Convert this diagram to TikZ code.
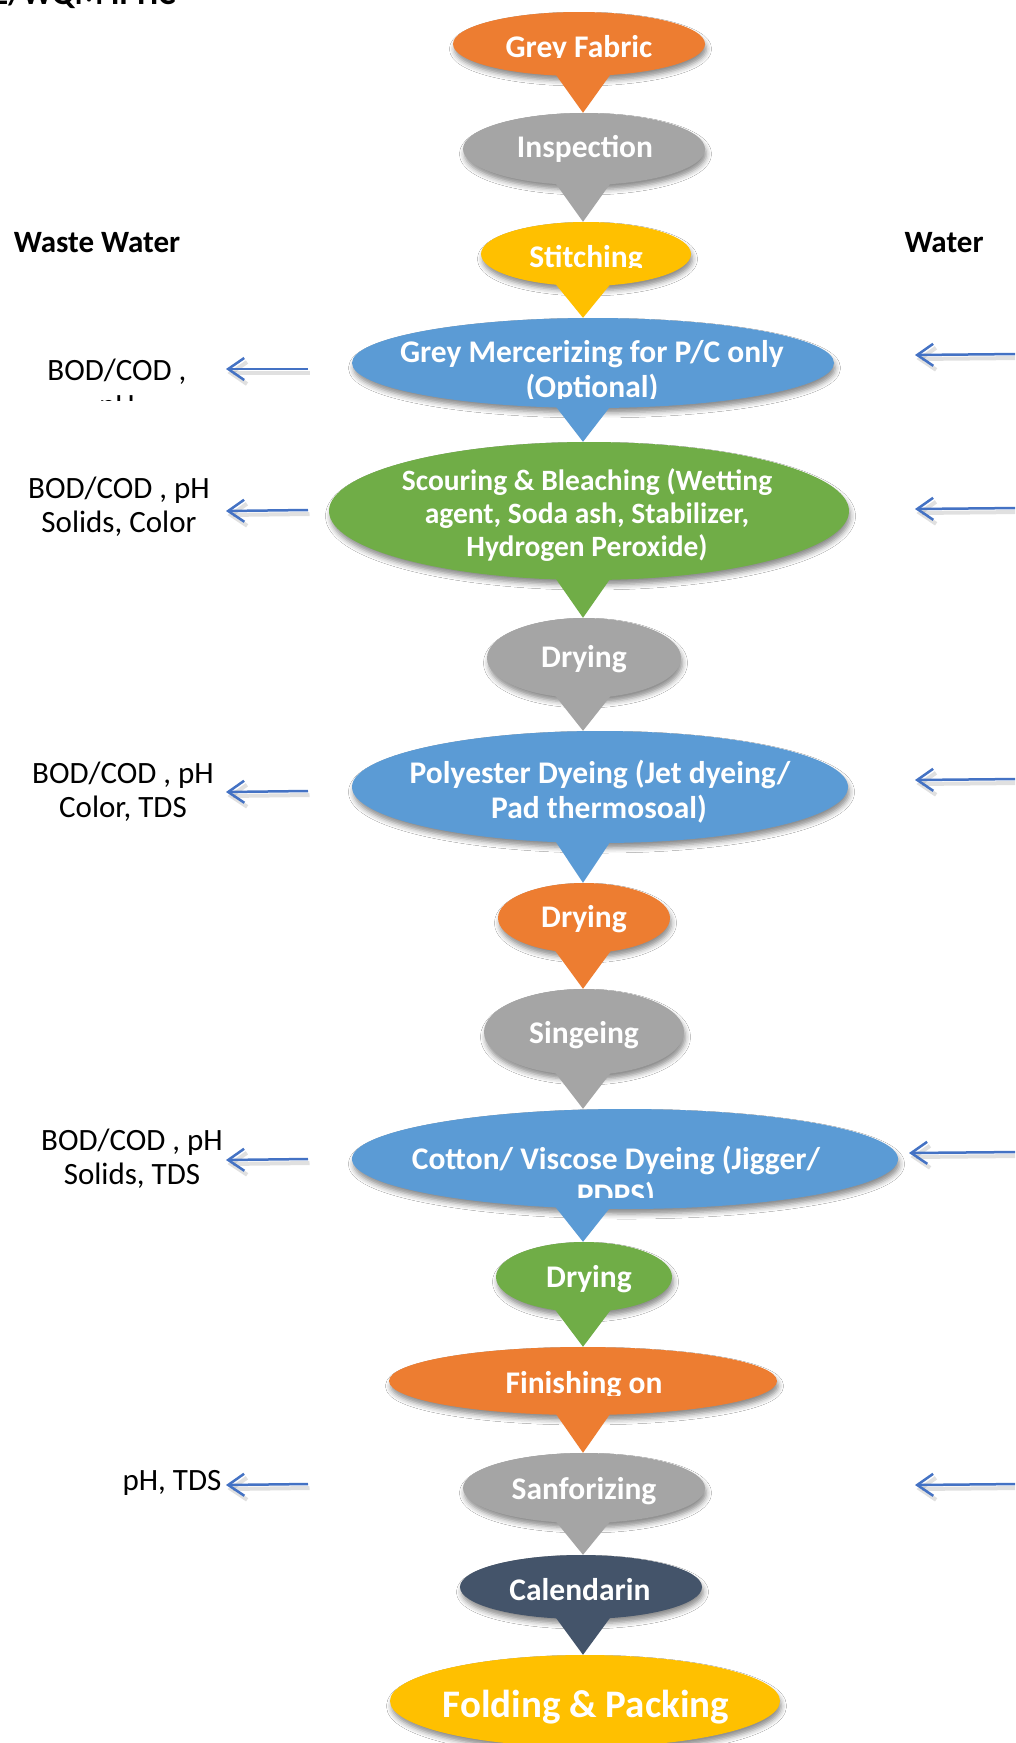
\documentclass[tikz,border=0pt]{standalone}
\usepackage{fontspec}
\setmainfont{Carlito}
\usetikzlibrary{shapes.geometric,shadows.blur,arrows.meta,calc}

\definecolor{cOrange}{HTML}{ED7D31}
\definecolor{cGrey}{HTML}{A5A5A5}
\definecolor{cGold}{HTML}{FFC000}
\definecolor{cBlue}{HTML}{5B9BD5}
\definecolor{cGreen}{HTML}{70AD47}
\definecolor{cSlate}{HTML}{44546A}
\definecolor{cArrow}{HTML}{4472C4}

\tikzset{
  stage/.style={ellipse, inner sep=0pt, draw=none, fill=#1,
    blur shadow={shadow xshift=1.5pt, shadow yshift=-5pt,
                 shadow blur radius=5pt, shadow opacity=45}},
  stagetext/.style={text=white, inner sep=0pt, anchor=base,
    font=\bfseries\fontsize{31.5}{36}\selectfont},
  smalltext/.style={stagetext, font=\bfseries\fontsize{29.5}{34}\selectfont},
  bigtext/.style={stagetext, font=\bfseries\fontsize{39}{44}\selectfont},
  note/.style={text=black, inner sep=0pt, anchor=base,
    font=\fontsize{31}{34}\selectfont},
  head/.style={text=black, inner sep=0pt, anchor=base,
    font=\bfseries\fontsize{31}{36}\selectfont},
  flow/.style={draw=cArrow, line width=2.5pt,
    -{Straight Barb[length=16pt,width=22pt]},
    preaction={draw=black, opacity=0.12, line width=4pt,
      transform canvas={shift={(1.5,4)}}}},
  wedge/.style={fill=#1, draw=none}
}

% wedge pointing from one stage down to the next
\newcommand\wedgeto[3]{%
  \fill[wedge=#1] ($(#2.south -| cx)+(-29,-4)$) -- ($(#2.south -| cx)+(29,-4)$)
    -- (#3.north -| cx) -- cycle;
}

\begin{document}
\begin{tikzpicture}[x=1pt, y=-1pt]
\useasboundingbox (0,0) rectangle (1015,1743);
\fill[white] (0,0) rectangle (1015,1743);
\clip (0,0) rectangle (1015,1743);

\coordinate (cx) at (583,0);

% title line, mostly above the page
\node[head, anchor=base west, font=\bfseries\fontsize{33}{38}\selectfont] (title) at (-8,4) {E/WQM IPHC};

% column headers
\node[head] (hwaste) at (97,252) {Waste Water};
\node[head] (hwater) at (944,252) {Water};

% process stages
\node[stage=cOrange, minimum width=252pt, minimum height=64pt]  (fab)   at (579,44)   {};
\node[stage=cGrey,   minimum width=242pt, minimum height=72pt]  (insp)  at (584,149)  {};
\node[stage=cGold,   minimum width=210pt, minimum height=64pt]  (stit)  at (586,254)  {};
\node[stage=cBlue,   minimum width=482pt, minimum height=90pt]  (merc)  at (593,363)  {};
\node[stage=cGreen,  minimum width=520pt, minimum height=138pt] (scour) at (589,511)  {};
\node[stage=cGrey,   minimum width=194pt, minimum height=80pt]  (dry1)  at (584,658)  {};
\node[stage=cBlue,   minimum width=496pt, minimum height=112pt] (poly)  at (600,787)  {};
\node[stage=cOrange, minimum width=172pt, minimum height=70pt]  (dry2)  at (584,918)  {};
\node[stage=cGrey,   minimum width=200pt, minimum height=86pt]  (sing)  at (584,1032) {};
\node[stage=cBlue,   minimum width=546pt, minimum height=100pt] (cott)  at (625,1159) {};
\node[stage=cGreen,  minimum width=176pt, minimum height=70pt]  (dry3)  at (584,1277) {};
\node[stage=cOrange, minimum width=388pt, minimum height=68pt]  (fini)  at (583,1381) {};
\node[stage=cGrey,   minimum width=242pt, minimum height=70pt]  (sanf)  at (584,1488) {};
\node[stage=cSlate,  minimum width=242pt, minimum height=64pt]  (cal)   at (581,1587) {};
\node[stage=cGold,   minimum width=390pt, minimum height=92pt]  (fold)  at (585,1701) {};

% wedges between stages
\wedgeto{cOrange}{fab}{insp}
\wedgeto{cGrey}{insp}{stit}
\wedgeto{cGold}{stit}{merc}
\wedgeto{cBlue}{merc}{scour}
\wedgeto{cGreen}{scour}{dry1}
\wedgeto{cGrey}{dry1}{poly}
\wedgeto{cBlue}{poly}{dry2}
\wedgeto{cOrange}{dry2}{sing}
\wedgeto{cGrey}{sing}{cott}
\wedgeto{cBlue}{cott}{dry3}
\wedgeto{cGreen}{dry3}{fini}
\wedgeto{cOrange}{fini}{sanf}
\wedgeto{cGrey}{sanf}{cal}
\wedgeto{cSlate}{cal}{fold}

% stage texts (some text boxes cut their last line)
\begin{scope}
  \clip (0,0) rectangle (1015,57);
  \node[stagetext] (tfab) at (579,57) {Grey Fabric};
\end{scope}
\node[stagetext] (tinsp) at (585,157) {Inspection};
\begin{scope}
  \clip (0,200) rectangle (1015,267.5);
  \node[stagetext] (tstit) at (586,267) {Stitching};
\end{scope}
\node[stagetext] (tmerc1) at (592,362) {Grey Mercerizing for P/C only};
\begin{scope}
  \clip (0,365) rectangle (1015,398.5);
  \node[stagetext] (tmerc2) at (592,397) {(Optional)};
\end{scope}
\node[smalltext] (tsc1) at (587,490) {Scouring \& Bleaching (Wetting};
\node[smalltext] (tsc2) at (587,523) {agent, Soda ash, Stabilizer,};
\node[smalltext] (tsc3) at (587,556) {Hydrogen Peroxide)};
\node[stagetext] (tdry1) at (584,667) {Drying};
\node[stagetext] (tpol1) at (600,783) {Polyester Dyeing (Jet dyeing/};
\node[stagetext] (tpol2) at (599,818) {Pad thermosoal)};
\node[stagetext] (tdry2) at (584,927) {Drying};
\node[stagetext] (tsing) at (584,1043) {Singeing};
\node[stagetext] (tcot1) at (616,1169) {Cotton/ Viscose Dyeing (Jigger/};
\begin{scope}
  \clip (0,1175) rectangle (1015,1197);
  \node[stagetext] (tcot2) at (616,1205) {PDPS)};
\end{scope}
\node[stagetext] (tdry3) at (589,1287) {Drying};
\begin{scope}
  \clip (0,1340) rectangle (1015,1395);
  \node[stagetext] (tfin) at (584,1393) {Finishing on};
\end{scope}
\node[stagetext] (tsanf) at (584,1499) {Sanforizing};
\node[stagetext] (tcal) at (580,1600) {Calendarin};
\node[bigtext] (tfold) at (586,1717) {Folding \& Packing};

% waste water side
\node[note] (wa1) at (117,380) {BOD/COD ,};
\begin{scope}
  \clip (0,386) rectangle (300,400);
  \node[note] (wa1b) at (117,415) {pH};
\end{scope}
\node[note] (wb1) at (119,498) {BOD/COD , pH};
\node[note] (wb2) at (119,532) {Solids, Color};
\node[note] (wc1) at (123,783) {BOD/COD , pH};
\node[note] (wc2) at (123,817) {Color, TDS};
\node[note] (wd1) at (132,1150) {BOD/COD , pH};
\node[note] (wd2) at (132,1184) {Solids, TDS};
\node[note] (we1) at (172,1490) {pH, TDS};

% outflow arrows
\coordinate (oa) at (308,369);  \coordinate (oat) at (226,369);
\coordinate (ob) at (308,510);  \coordinate (obt) at (226,511);
\coordinate (oc) at (308,791);  \coordinate (oct) at (226,792);
\coordinate (od) at (308,1159); \coordinate (odt) at (226,1160);
\coordinate (oe) at (308,1484); \coordinate (oet) at (226,1485);
\draw[flow] (oa) -- (oat);
\draw[flow] (ob) -- (obt);
\draw[flow] (oc) -- (oct);
\draw[flow] (od) -- (odt);
\draw[flow] (oe) -- (oet);

% water inflow arrows
\coordinate (ia) at (1020,354);  \coordinate (iat) at (915,355);
\coordinate (ib) at (1020,508);  \coordinate (ibt) at (915,509);
\coordinate (ic) at (1020,779);  \coordinate (ict) at (915,780);
\coordinate (id) at (1020,1152); \coordinate (idt) at (909,1153);
\coordinate (ie) at (1020,1484); \coordinate (iet) at (915,1485);
\draw[flow] (ia) -- (iat);
\draw[flow] (ib) -- (ibt);
\draw[flow] (ic) -- (ict);
\draw[flow] (id) -- (idt);
\draw[flow] (ie) -- (iet);
\end{tikzpicture}
\end{document}
